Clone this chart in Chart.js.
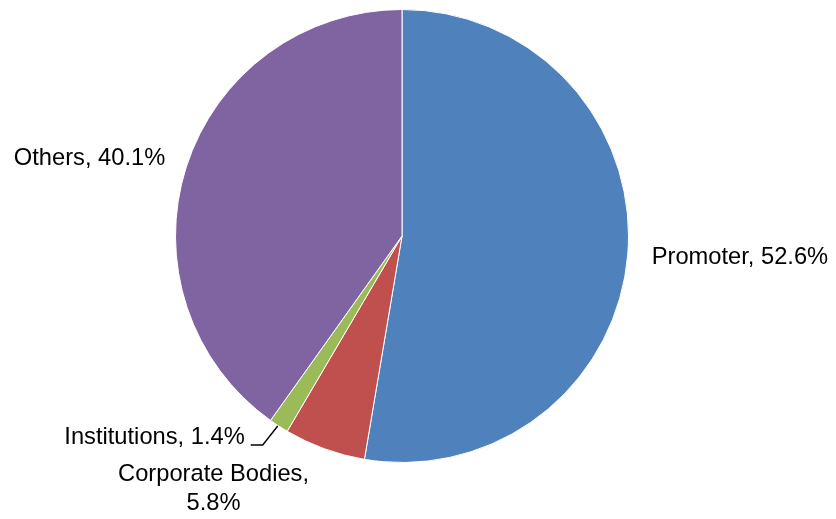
<!DOCTYPE html>
<html>
<head>
<meta charset="utf-8">
<script src="https://cdn.jsdelivr.net/npm/chart.js@4/dist/chart.umd.min.js"></script>
<style>
  html, body { margin: 0; padding: 0; background: #fff; }
  canvas { display: block; }
</style>
</head>
<body>
<canvas id="pie" width="836" height="519"></canvas>
<script>
const categories = ['Promoter', 'Corporate Bodies', 'Institutions', 'Others'];
const shares = [52.6, 5.8, 1.4, 40.1];
const sliceColors = ['#4F81BD', '#C0504D', '#9BBB59', '#8064A2'];

// label placement relative to the point where each slice's mid-angle meets the rim
const labelSpots = [
  { dx: 24, dy: 3, align: 'left', lines: (c, v) => [c + ', ' + v + '%'] },
  { dx: -111, dy: 40, align: 'center', lines: (c, v) => [c + ',', v + '%'] },
  { dx: -34, dy: 11, align: 'right', lines: (c, v) => [c + ', ' + v + '%'], leader: true },
  { dx: -21, dy: -8, align: 'right', lines: (c, v) => [c + ', ' + v + '%'] }
];

const sliceLabels = {
  id: 'sliceLabels',
  afterDatasetsDraw(chart) {
    const { ctx } = chart;
    const arcs = chart.getDatasetMeta(0).data;
    ctx.save();
    ctx.font = '23.7px "Liberation Sans", Arial, sans-serif';
    ctx.fillStyle = '#000';
    ctx.textBaseline = 'middle';
    arcs.forEach((arc, i) => {
      const { x, y, startAngle, endAngle, outerRadius } = arc.getProps(['x', 'y', 'startAngle', 'endAngle', 'outerRadius'], true);
      const mid = (startAngle + endAngle) / 2;
      const px = x + Math.cos(mid) * outerRadius;
      const py = y + Math.sin(mid) * outerRadius;
      const spot = labelSpots[i];
      const lx = px + spot.dx;
      const ly = py + spot.dy;
      if (spot.leader) {
        ctx.strokeStyle = '#000';
        ctx.lineWidth = 1.4;
        ctx.beginPath();
        ctx.moveTo(px - 1, py);
        ctx.lineTo(px - 16, py + 19);
        ctx.lineTo(px - 28, py + 19);
        ctx.stroke();
      }
      ctx.textAlign = spot.align;
      const lines = spot.lines(categories[i], shares[i].toFixed(1));
      const lh = 29;
      const top = ly - (lines.length - 1) * lh / 2;
      lines.forEach((t, k) => ctx.fillText(t, lx, top + k * lh));
    });
    ctx.restore();
  }
};

new Chart(document.getElementById('pie'), {
  type: 'pie',
  data: {
    labels: categories,
    datasets: [{
      data: shares,
      backgroundColor: sliceColors,
      borderColor: '#ffffff',
      borderWidth: 1
    }]
  },
  options: {
    responsive: false,
    animation: false,
    layout: { padding: { top: 9, bottom: 56, left: 100, right: 132 } },
    plugins: {
      legend: { display: false },
      tooltip: { enabled: false }
    },
    events: []
  },
  plugins: [sliceLabels]
});
</script>
</body>
</html>
